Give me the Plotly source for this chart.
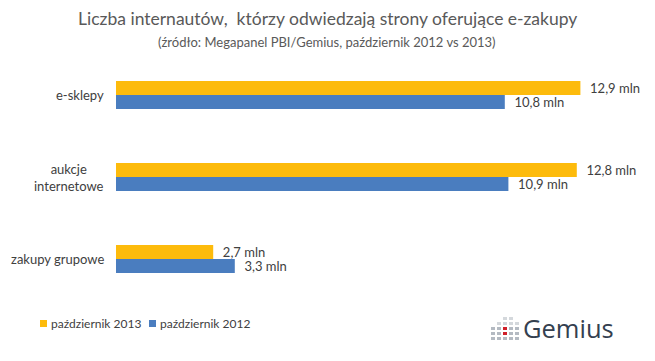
import plotly.graph_objects as go

categories = ["e-sklepy", "aukcje<br>internetowe", "zakupy grupowe"]
values_2013 = [12.9, 12.8, 2.7]
values_2012 = [10.8, 10.9, 3.3]
labels_2013 = ["12,9 mln", "12,8 mln", "2,7 mln"]
labels_2012 = ["10,8 mln", "10,9 mln", "3,3 mln"]
series_names = ["październik 2013", "październik 2012"]

YELLOW = "#FDBB0C"
BLUE = "#4A7DBF"
TXT = "#404040"
FONT = "Lato"

# plot area in pixels
L, R, T, B = 116, 620, 54, 300
W, H = R - L, B - T


def px(x):
    return (x - L) / W


def py(y):
    return (B - y) / H


PAD = "\u00a0\u00a0"

fig = go.Figure()
fig.add_trace(go.Bar(
    y=categories, x=values_2012, orientation="h", name=series_names[1],
    marker=dict(color=BLUE, line=dict(width=0)),
    text=[PAD + t for t in labels_2012], textposition="outside",
    cliponaxis=False, constraintext="none",
    textfont=dict(family=FONT, size=13, color=TXT),
    showlegend=False,
))
fig.add_trace(go.Bar(
    y=categories, x=values_2013, orientation="h", name=series_names[0],
    marker=dict(color=YELLOW, line=dict(width=0)),
    text=[PAD + t for t in labels_2013], textposition="outside",
    cliponaxis=False, constraintext="none",
    textfont=dict(family=FONT, size=13, color=TXT),
    showlegend=False,
))

fig.update_layout(
    barmode="group",
    bargap=0.66,
    bargroupgap=0,
    width=655, height=361,
    margin=dict(l=L, r=655 - R, t=T, b=361 - B),
    paper_bgcolor="white", plot_bgcolor="white",
    font=dict(family=FONT, color=TXT, size=12),
    xaxis=dict(range=[0, 14], visible=False, fixedrange=True),
    yaxis=dict(categoryorder="array", categoryarray=categories[::-1],
               showticklabels=False, showgrid=False, zeroline=False,
               showline=False, range=[-0.5, 2.5], fixedrange=True),
    showlegend=False,
    hovermode=False,
)

ann = []
ann.append(dict(text="Liczba internautów,  którzy odwiedzają strony oferujące e-zakupy",
                x=px(327), y=py(18), xref="paper", yref="paper",
                showarrow=False, xanchor="center", yanchor="middle",
                font=dict(family=FONT, size=17.5, color="#595959")))
ann.append(dict(text="(źródło: Megapanel PBI/Gemius, październik 2012 vs 2013)",
                x=px(327), y=py(42), xref="paper", yref="paper",
                showarrow=False, xanchor="center", yanchor="middle",
                font=dict(family=FONT, size=13, color="#595959")))
for c in categories:
    ann.append(dict(text=c, x=px(106), y=c, xref="paper", yref="y",
                    showarrow=False, xanchor="right", yanchor="middle",
                    align="center",
                    font=dict(family=FONT, size=13, color=TXT)))

# manual legend
shapes = []
legend_items = [(series_names[0], YELLOW, 40), (series_names[1], BLUE, 149)]
for name, color, x0 in legend_items:
    shapes.append(dict(type="rect", xref="paper", yref="paper",
                       x0=px(x0), x1=px(x0 + 7), y0=py(327), y1=py(320),
                       fillcolor=color, line=dict(width=0)))
    ann.append(dict(text=name, x=px(x0 + 9), y=py(323.5), xref="paper",
                    yref="paper", showarrow=False, xanchor="left",
                    yanchor="middle",
                    font=dict(family=FONT, size=12, color=TXT)))

ann.append(dict(text="Gemius", x=px(521), y=py(328), xref="paper",
                yref="paper", showarrow=False, xanchor="left",
                yanchor="middle",
                font=dict(family="Open Sans", size=25.5, color="#34404f")))
fig.update_layout(annotations=ann)

# Gemius logo icon: small grid of squares
cols = [491, 497, 503, 509, 515]
heights = [3, 4, 5, 5, 4]
for i, cx in enumerate(cols):
    for j in range(heights[i]):
        y0 = 340 - j * 5
        color = "#b4bac2"
        if i == 2 and j in (1, 2):
            color = "#d0202a"
        elif j >= 3:
            color = "#d4d8dc"
        shapes.append(dict(type="rect", xref="paper", yref="paper",
                           x0=px(cx), x1=px(cx + 4),
                           y0=py(y0), y1=py(y0 - 3),
                           fillcolor=color, line=dict(width=0)))
fig.update_layout(shapes=shapes)

fig.write_html("out.html", config={"displayModeBar": False},
               post_script="document.body.style.margin='0px';")
